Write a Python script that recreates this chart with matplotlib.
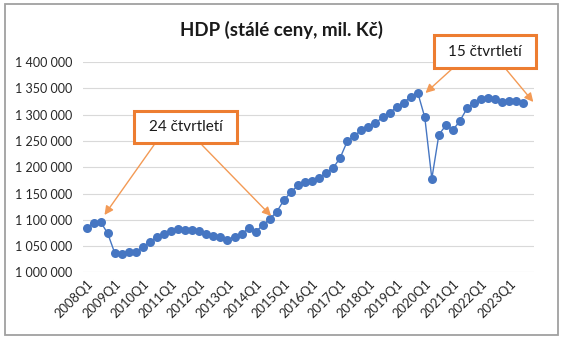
import matplotlib.pyplot as plt
from matplotlib.patches import Rectangle

plt.rcParams['font.family'] = ['Lato', 'DejaVu Sans']

# Quarterly GDP, constant prices, mil. CZK (2008Q1 - 2023Q3)
years = list(range(2008, 2024))
quarters = [f'{y}Q{q}' for y in years for q in range(1, 5)][:63]
gdp = [1085100, 1094100, 1096000, 1074500, 1037100, 1034600, 1039600, 1039600,
       1048500, 1058600, 1067500, 1072600, 1079400, 1083200, 1080800, 1080800,
       1078900, 1073700, 1069400, 1066900, 1062300, 1067500, 1072600, 1084600,
       1077500, 1089700, 1101700, 1115500, 1137500, 1152400, 1165700, 1172000,
       1174400, 1179000, 1189600, 1198600, 1218100, 1249300, 1259400, 1270800,
       1277100, 1284100, 1294900, 1303100, 1314500, 1322700, 1334100, 1341700,
       1294900, 1178200, 1261900, 1279700, 1270800, 1288500, 1312000, 1322700,
       1329700, 1332200, 1329700, 1323400, 1325300, 1325300, 1321500]
yticks = list(range(1000000, 1400001, 50000))

orange = '#ED7D31'
arrow_c = '#F39A55'

fig = plt.figure(figsize=(5.62, 3.38), dpi=100)
ax = fig.add_axes([0.1477, 0.1938, 0.8025, 0.6228])

x = list(range(len(gdp)))
ax.plot(x, gdp, color='#4676C2', lw=1.0, marker='o', markersize=6.5,
        markeredgewidth=0, zorder=3)

ax.set_xlim(-0.5, len(gdp) + 0.5)
ax.set_ylim(1000000, 1400000)
ax.set_yticks(yticks)
ax.set_yticklabels([f'{v:,}'.replace(',', ' ') for v in yticks], fontsize=9, color='#262626')
ax.set_xticks(x[::4])
ax.set_xticklabels(quarters[::4], rotation=45, ha='right', rotation_mode='anchor',
                   fontsize=9.3, color='#262626')
ax.tick_params(length=0, pad=8)
ax.tick_params(axis='x', pad=4)
ax.grid(axis='y', color='#D9D9D9', lw=0.8)
ax.set_axisbelow(True)
for s in ax.spines.values():
    s.set_visible(False)

fig.text(0.5, 0.91, 'HDP (stálé ceny, mil. Kč)', ha='center', va='center',
         fontsize=13.5, fontweight='bold', color='#1a1a1a')

# outer frame
fig.patches.append(Rectangle((5 / 562, 3 / 338), 553 / 562, 331 / 338, transform=fig.transFigure,
                             fill=False, edgecolor='#A0A0A0', lw=1.3))

# annotation boxes
boxes = [((134, 111, 237, 143), '24 čtvrtletí'), ((434, 35, 536, 68), '15 čtvrtletí')]
for (l, t, r, b), label in boxes:
    fig.patches.append(Rectangle((l / 562, 1 - b / 338), (r - l) / 562, (b - t) / 338,
                                 transform=fig.transFigure, facecolor='white',
                                 edgecolor=orange, lw=2.2, zorder=5))
    fig.text((l + r) / 2 / 562, 1 - (t + b) / 2 / 338, label, ha='center', va='center',
             fontsize=11, color='#1a1a1a', zorder=6)

arrows = [((2.55, 1109300), (154, 145)), ((26.2, 1107400), (202, 145)),
          ((48.1, 1341100), (453, 68)), ((63.4, 1324000), (505, 68))]
for tip, (sx, sy) in arrows:
    ax.annotate('', xy=tip, xycoords='data', xytext=(sx / 562, 1 - sy / 338),
                textcoords='figure fraction', annotation_clip=False,
                arrowprops=dict(arrowstyle='-|>', color=arrow_c, lw=1.0,
                                mutation_scale=13, shrinkA=0, shrinkB=0))

fig.savefig('out.png', dpi=100)
